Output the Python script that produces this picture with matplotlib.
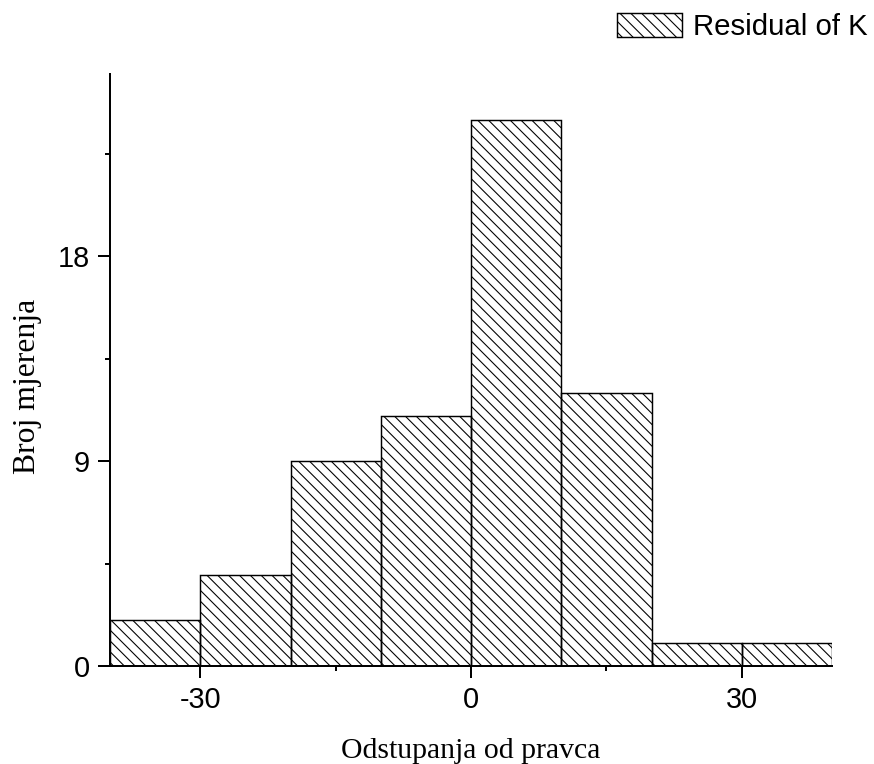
import numpy as np
import matplotlib
matplotlib.use('Agg')
import matplotlib.pyplot as plt
from matplotlib.ticker import MultipleLocator

# histogram of residuals, bins of width 10
bin_edges = [-40, -30, -20, -10, 0, 10, 20, 30, 40]
counts = [2, 4, 9, 11, 24, 12, 1, 1]
x_ticks = [-30, 0, 30]
y_ticks = [0, 9, 18]

plt.rcParams['hatch.linewidth'] = 0.6
plt.rcParams['axes.unicode_minus'] = False

dpi = 130
fig = plt.figure(figsize=(874/dpi, 764/dpi), dpi=dpi)
ax = fig.add_axes([110/874, 1-666/764, 722/874, 592/764])

widths = np.diff(bin_edges)
ax.bar(bin_edges[:-1], counts, width=widths, align='edge', fill=False,
       edgecolor='black', linewidth=0.8, hatch='\\\\\\\\', label='Residual of K')

ax.set_xlim(bin_edges[0], bin_edges[-1])
ax.set_ylim(0, 26)
ax.set_xticks(x_ticks)
ax.set_yticks(y_ticks)
ax.xaxis.set_minor_locator(MultipleLocator(15))
ax.yaxis.set_minor_locator(MultipleLocator(4.5))

for side in ['top', 'right']:
    ax.spines[side].set_visible(False)
for side in ['left', 'bottom']:
    ax.spines[side].set_linewidth(1.1)

ax.tick_params(which='major', direction='out', length=6.6, width=1.1, pad=4.5,
               labelsize=16)
ax.tick_params(which='minor', direction='out', length=3, width=1.1)
for lab in ax.get_xticklabels() + ax.get_yticklabels():
    lab.set_family('Liberation Sans')

ax.set_xlabel('Odstupanja od pravca', family='Liberation Serif', fontsize=16.5,
              labelpad=13)
ax.set_ylabel('Broj mjerenja', family='Liberation Serif', fontsize=17.5,
              labelpad=9)
ax.yaxis.label.set_y(0.472)

fig.legend(loc='upper right', bbox_to_anchor=(868/874, 1-13/764), frameon=False,
           prop={'family': 'Liberation Sans', 'size': 16.3}, handlelength=2.2,
           handleheight=0.85, handletextpad=0.4, borderpad=0, borderaxespad=0)

fig.savefig('out.png', dpi=dpi)
